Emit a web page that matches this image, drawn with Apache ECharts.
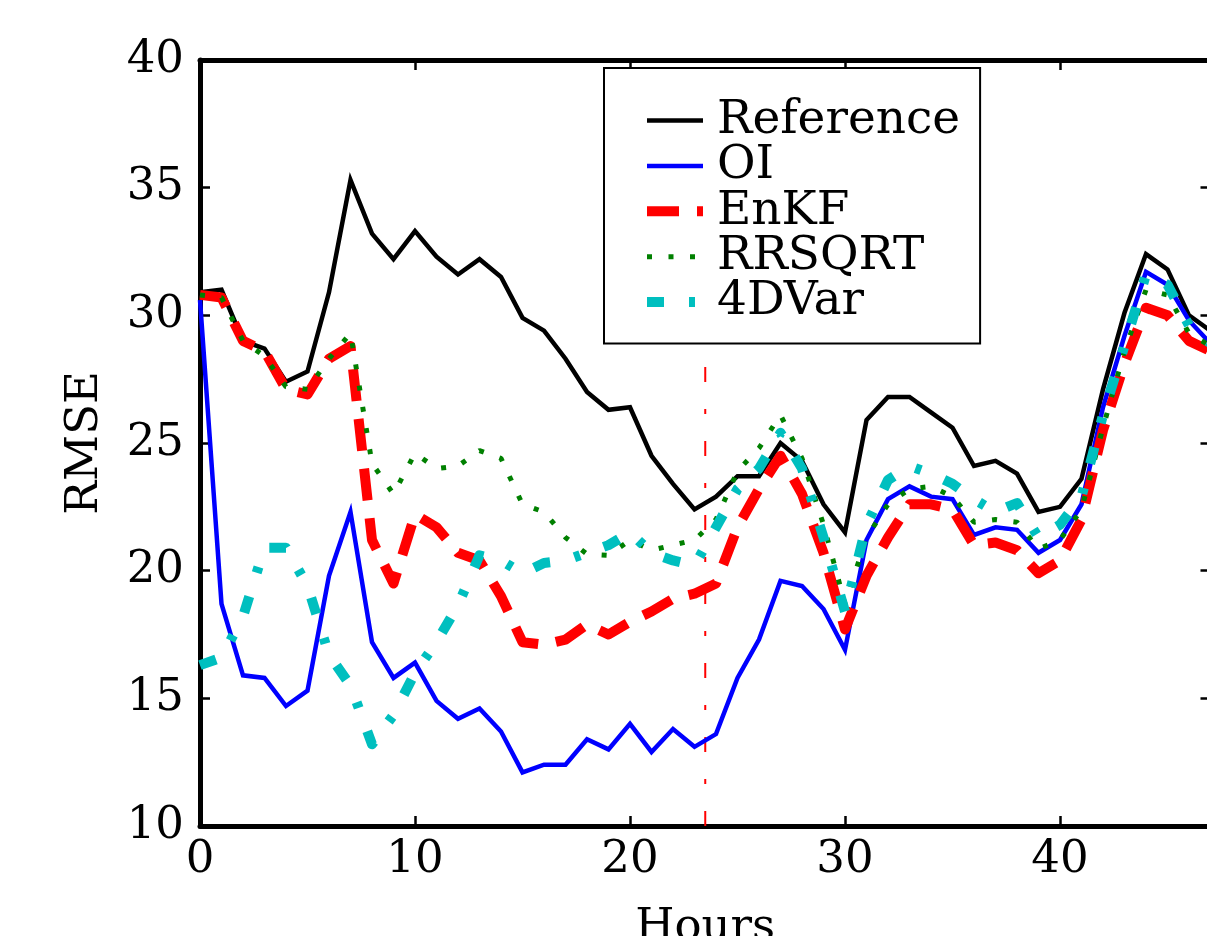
<!DOCTYPE html>
<html>
<head>
<meta charset="utf-8">
<script src="https://cdn.jsdelivr.net/npm/echarts@6/dist/echarts.min.js"></script>
<style>
html,body{margin:0;padding:0;background:#fff;}
#chart{width:1207px;height:936px;}
</style>
</head>
<body>
<div id="chart"></div>
<script>
var hours = [0,1,2,3,4,5,6,7,8,9,10,11,12,13,14,15,16,17,18,19,20,21,22,23,24,25,26,27,28,29,30,31,32,33,34,35,36,37,38,39,40,41,42,43,44,45,46,47];
var reference = [30.9,31.0,29.0,28.7,27.4,27.8,30.9,35.3,33.2,32.2,33.3,32.3,31.6,32.2,31.5,29.9,29.4,28.3,27.0,26.3,26.4,24.5,23.4,22.4,22.9,23.7,23.7,25.0,24.3,22.6,21.5,25.9,26.8,26.8,26.2,25.6,24.1,24.3,23.8,22.3,22.5,23.6,27.1,30.1,32.4,31.8,30.0,29.4];
var oi = [30.6,18.7,15.9,15.8,14.7,15.3,19.8,22.3,17.2,15.8,16.4,14.9,14.2,14.6,13.7,12.1,12.4,12.4,13.4,13.0,14.0,12.9,13.8,13.1,13.6,15.8,17.3,19.6,19.4,18.5,16.9,21.2,22.8,23.3,22.9,22.8,21.4,21.7,21.6,20.7,21.2,22.6,26.4,29.2,31.7,31.2,29.8,28.9];
var enkf = [30.8,30.7,29.0,28.6,27.1,26.9,28.3,28.8,21.2,19.5,22.2,21.7,20.7,20.4,19.0,17.2,17.1,17.3,17.9,17.5,18.0,18.4,18.9,19.1,19.5,21.7,23.2,24.5,23.0,20.7,17.7,19.8,21.3,22.6,22.6,22.4,21.0,21.1,20.8,19.9,20.4,22.0,25.5,28.1,30.3,30.0,29.0,28.6];
var rrsqrt = [30.8,30.7,29.0,28.4,27.2,27.1,28.3,29.3,24.2,23.0,24.6,24.0,24.1,24.7,24.4,22.6,22.3,21.3,20.65,20.6,21.2,20.8,21.0,21.2,22.0,23.9,24.8,26.1,24.4,21.8,18.7,21.3,22.6,23.2,23.3,22.9,21.9,22.0,21.9,20.85,21.2,22.4,25.6,28.6,31.0,30.8,29.3,28.8];
var fourdvar = [16.3,16.6,18.2,20.9,20.9,19.4,16.7,15.5,13.2,14.35,16.0,17.2,18.65,20.6,20.4,19.9,20.3,20.4,20.7,21.0,21.5,20.7,20.4,20.2,21.7,23.2,24.0,25.4,24.0,21.3,18.4,21.8,23.55,24.1,23.8,23.4,22.8,22.3,22.65,21.3,21.8,22.9,26.1,28.8,31.6,31.2,29.6,28.9];
var markerHour = [23.5, 23.5];
var markerRange = [10, 28];
var xTicks = [0, 10, 20, 30, 40];
var yTicks = [10, 15, 20, 25, 30, 35, 40];
var seriesNames = ['Reference', 'OI', 'EnKF', 'RRSQRT', '4DVar'];

function pairs(xs, ys) { return xs.map(function (x, i) { return [x, ys[i]]; }); }

var FONT = 'DejaVu Serif';
var chart = echarts.init(document.getElementById('chart'), null, {renderer: 'canvas'});

function xAxisCfg(pos, labels) {
  return {
    type: 'value', position: pos, min: 0, max: 47, interval: 10,
    name: labels ? 'Hours' : '', nameLocation: 'middle', nameGap: 80,
    nameTextStyle: {fontFamily: FONT, fontSize: 45, color: '#000'},
    axisLine: {show: true, onZero: false, lineStyle: {color: '#000', width: 5}},
    axisTick: {show: true, inside: true, length: 10, lineStyle: {color: '#000', width: 2.5}},
    axisLabel: {show: labels, margin: 12, fontFamily: FONT, fontSize: 45, color: '#000',
      formatter: function (v) { return xTicks.indexOf(v) >= 0 ? String(v) : ''; }},
    splitLine: {show: false}
  };
}
function yAxisCfg(pos, labels) {
  return {
    type: 'value', position: pos, min: 10, max: 40, interval: 5,
    name: labels ? 'RMSE' : '', nameLocation: 'middle', nameGap: 92,
    nameTextStyle: {fontFamily: FONT, fontSize: 45, color: '#000'},
    axisLine: {show: true, onZero: false, lineStyle: {color: '#000', width: 5}},
    axisTick: {show: true, inside: true, length: 10, lineStyle: {color: '#000', width: 2.5}},
    axisLabel: {show: labels, margin: 16, fontFamily: FONT, fontSize: 45, color: '#000',
      formatter: function (v) { return yTicks.indexOf(v) >= 0 ? String(v) : ''; }},
    splitLine: {show: false}
  };
}

var hidden = {color: 'rgba(0,0,0,0)', borderWidth: 0, opacity: 0};
var option = {
  animation: false,
  backgroundColor: '#fff',
  grid: {left: 200, top: 60, right: -3.5, bottom: 110, containLabel: false, outerBoundsMode: 'none'},
  xAxis: [xAxisCfg('bottom', true), xAxisCfg('top', false)],
  yAxis: [yAxisCfg('left', true), yAxisCfg('right', false)],
  legend: {
    orient: 'vertical', left: 604, top: 68,
    padding: [29, 20, 18, 38],
    borderColor: '#000', borderWidth: 2, backgroundColor: '#fff',
    itemWidth: 56, itemHeight: 10, itemGap: -1.6,
    itemStyle: hidden,
    textStyle: {fontFamily: FONT, fontSize: 47, lineHeight: 43.5, color: '#000', padding: [0, 0, 0, 9]},
    data: [
      {name: 'Reference', lineStyle: {width: 4.5}, itemStyle: hidden},
      {name: 'OI', lineStyle: {width: 4.5}, itemStyle: hidden},
      {name: 'EnKF', lineStyle: {width: 10}, itemStyle: hidden},
      {name: 'RRSQRT', lineStyle: {width: 5}, itemStyle: hidden},
      {name: '4DVar', lineStyle: {width: 10}, itemStyle: hidden}
    ]
  },
  series: [
    {name: seriesNames[0], type: 'line', data: pairs(hours, reference), symbol: 'none', showSymbol: false,
      lineStyle: {color: '#000000', width: 4.5, join: 'miter'}, itemStyle: {color: '#000000'}},
    {name: seriesNames[1], type: 'line', data: pairs(hours, oi), symbol: 'none', showSymbol: false,
      lineStyle: {color: '#0000ff', width: 4.5, join: 'miter'}, itemStyle: {color: '#0000ff'}},
    {name: seriesNames[2], type: 'line', data: pairs(hours, enkf), symbol: 'none', showSymbol: false,
      lineStyle: {color: '#ff0000', width: 10, type: [32, 18], cap: 'butt', join: 'round'}, itemStyle: {color: '#ff0000'}},
    {name: seriesNames[3], type: 'line', data: pairs(hours, rrsqrt), symbol: 'none', showSymbol: false,
      lineStyle: {color: '#008000', width: 5, type: [5, 16.5], cap: 'butt'}, itemStyle: {color: '#008000'}},
    {name: seriesNames[4], type: 'line', data: pairs(hours, fourdvar), symbol: 'none', showSymbol: false,
      lineStyle: {color: '#00bfbf', width: 10, type: [17, 25, 6, 25], cap: 'butt', join: 'round'}, itemStyle: {color: '#00bfbf'}},
    {name: 'marker', type: 'line', data: pairs(markerHour, markerRange), symbol: 'none', showSymbol: false,
      lineStyle: {color: '#ff0000', width: 2, type: [15, 27, 5, 27], cap: 'butt'}, itemStyle: {color: '#ff0000'}, z: 1}
  ]
};
chart.setOption(option);
</script>
</body>
</html>
